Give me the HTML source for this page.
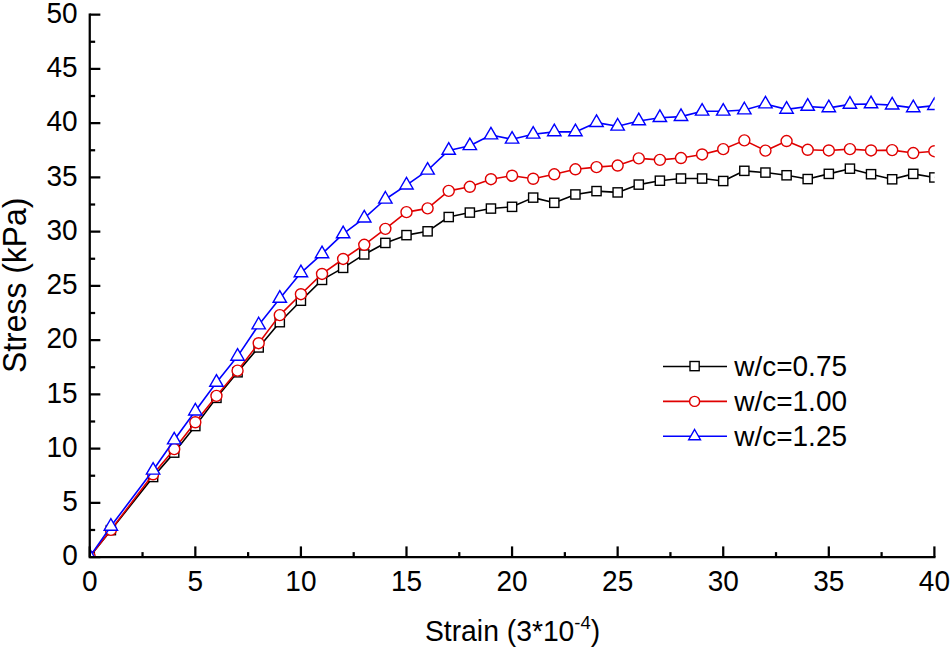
<!DOCTYPE html>
<html><head><meta charset="utf-8"><title>Stress-Strain</title>
<style>
html,body{margin:0;padding:0;background:#fff;width:952px;height:649px;overflow:hidden;}
svg{display:block;font-family:"Liberation Sans",sans-serif;}
</style></head><body>
<svg width="952" height="649" viewBox="0 0 952 649" font-family="Liberation Sans, sans-serif" fill="#000">
<defs><clipPath id="pc"><rect x="89.75" y="0" width="844.94" height="557.1"/></clipPath></defs>
<g clip-path="url(#pc)">
<polyline points="89.75,556.7 110.87,530.14 153.1,477.01 174.21,452.62 195.33,426.05 216.45,397.86 237.56,372.28 258.68,347.45 279.79,322.19 300.91,300.72 322.03,279.9 343.14,267.87 364.26,254.43 385.37,242.93 406.49,235.13 427.61,231.33 448.72,217.02 469.84,212.57 490.95,208.56 512.07,206.83 533.19,197.61 554.3,202.82 575.42,194.47 596.53,191.11 617.65,192.41 638.77,184.6 659.88,180.7 681,178.53 702.11,178.53 723.23,181.02 744.35,170.83 765.46,172.57 786.58,175.28 807.69,179.07 828.81,173.87 849.93,168.66 871.04,174.19 892.16,179.29 913.27,173.87 934.39,177.45" fill="none" stroke="#000000" stroke-width="1.6" stroke-linejoin="round"/>
<rect x="85.15" y="552.1" width="9.2" height="9.2" fill="#fff" stroke="#000000" stroke-width="1.4"/>
<rect x="106.27" y="525.54" width="9.2" height="9.2" fill="#fff" stroke="#000000" stroke-width="1.4"/>
<rect x="148.5" y="472.41" width="9.2" height="9.2" fill="#fff" stroke="#000000" stroke-width="1.4"/>
<rect x="169.61" y="448.02" width="9.2" height="9.2" fill="#fff" stroke="#000000" stroke-width="1.4"/>
<rect x="190.73" y="421.45" width="9.2" height="9.2" fill="#fff" stroke="#000000" stroke-width="1.4"/>
<rect x="211.85" y="393.26" width="9.2" height="9.2" fill="#fff" stroke="#000000" stroke-width="1.4"/>
<rect x="232.96" y="367.68" width="9.2" height="9.2" fill="#fff" stroke="#000000" stroke-width="1.4"/>
<rect x="254.08" y="342.85" width="9.2" height="9.2" fill="#fff" stroke="#000000" stroke-width="1.4"/>
<rect x="275.19" y="317.59" width="9.2" height="9.2" fill="#fff" stroke="#000000" stroke-width="1.4"/>
<rect x="296.31" y="296.12" width="9.2" height="9.2" fill="#fff" stroke="#000000" stroke-width="1.4"/>
<rect x="317.43" y="275.3" width="9.2" height="9.2" fill="#fff" stroke="#000000" stroke-width="1.4"/>
<rect x="338.54" y="263.27" width="9.2" height="9.2" fill="#fff" stroke="#000000" stroke-width="1.4"/>
<rect x="359.66" y="249.83" width="9.2" height="9.2" fill="#fff" stroke="#000000" stroke-width="1.4"/>
<rect x="380.77" y="238.33" width="9.2" height="9.2" fill="#fff" stroke="#000000" stroke-width="1.4"/>
<rect x="401.89" y="230.53" width="9.2" height="9.2" fill="#fff" stroke="#000000" stroke-width="1.4"/>
<rect x="423.01" y="226.73" width="9.2" height="9.2" fill="#fff" stroke="#000000" stroke-width="1.4"/>
<rect x="444.12" y="212.42" width="9.2" height="9.2" fill="#fff" stroke="#000000" stroke-width="1.4"/>
<rect x="465.24" y="207.97" width="9.2" height="9.2" fill="#fff" stroke="#000000" stroke-width="1.4"/>
<rect x="486.35" y="203.96" width="9.2" height="9.2" fill="#fff" stroke="#000000" stroke-width="1.4"/>
<rect x="507.47" y="202.23" width="9.2" height="9.2" fill="#fff" stroke="#000000" stroke-width="1.4"/>
<rect x="528.59" y="193.01" width="9.2" height="9.2" fill="#fff" stroke="#000000" stroke-width="1.4"/>
<rect x="549.7" y="198.22" width="9.2" height="9.2" fill="#fff" stroke="#000000" stroke-width="1.4"/>
<rect x="570.82" y="189.87" width="9.2" height="9.2" fill="#fff" stroke="#000000" stroke-width="1.4"/>
<rect x="591.93" y="186.51" width="9.2" height="9.2" fill="#fff" stroke="#000000" stroke-width="1.4"/>
<rect x="613.05" y="187.81" width="9.2" height="9.2" fill="#fff" stroke="#000000" stroke-width="1.4"/>
<rect x="634.17" y="180" width="9.2" height="9.2" fill="#fff" stroke="#000000" stroke-width="1.4"/>
<rect x="655.28" y="176.1" width="9.2" height="9.2" fill="#fff" stroke="#000000" stroke-width="1.4"/>
<rect x="676.4" y="173.93" width="9.2" height="9.2" fill="#fff" stroke="#000000" stroke-width="1.4"/>
<rect x="697.51" y="173.93" width="9.2" height="9.2" fill="#fff" stroke="#000000" stroke-width="1.4"/>
<rect x="718.63" y="176.42" width="9.2" height="9.2" fill="#fff" stroke="#000000" stroke-width="1.4"/>
<rect x="739.75" y="166.23" width="9.2" height="9.2" fill="#fff" stroke="#000000" stroke-width="1.4"/>
<rect x="760.86" y="167.97" width="9.2" height="9.2" fill="#fff" stroke="#000000" stroke-width="1.4"/>
<rect x="781.98" y="170.68" width="9.2" height="9.2" fill="#fff" stroke="#000000" stroke-width="1.4"/>
<rect x="803.09" y="174.47" width="9.2" height="9.2" fill="#fff" stroke="#000000" stroke-width="1.4"/>
<rect x="824.21" y="169.27" width="9.2" height="9.2" fill="#fff" stroke="#000000" stroke-width="1.4"/>
<rect x="845.33" y="164.06" width="9.2" height="9.2" fill="#fff" stroke="#000000" stroke-width="1.4"/>
<rect x="866.44" y="169.59" width="9.2" height="9.2" fill="#fff" stroke="#000000" stroke-width="1.4"/>
<rect x="887.56" y="174.69" width="9.2" height="9.2" fill="#fff" stroke="#000000" stroke-width="1.4"/>
<rect x="908.67" y="169.27" width="9.2" height="9.2" fill="#fff" stroke="#000000" stroke-width="1.4"/>
<rect x="929.79" y="172.85" width="9.2" height="9.2" fill="#fff" stroke="#000000" stroke-width="1.4"/>
<polyline points="89.75,556.7 110.87,529.92 153.1,474.3 174.21,449.15 195.33,422.26 216.45,395.91 237.56,370.65 258.68,343.22 279.79,315.14 300.91,294.22 322.03,273.94 343.14,258.98 364.26,244.78 385.37,228.84 406.49,212.14 427.61,208.35 448.72,190.89 469.84,186.77 490.95,179.18 512.07,175.71 533.19,178.75 554.3,174.3 575.42,169.32 596.53,167.15 617.65,165.52 638.77,158.36 659.88,159.88 681,158.04 702.11,154.46 723.23,149.15 744.35,140.37 765.46,150.67 786.58,141.02 807.69,149.8 828.81,150.45 849.93,149.15 871.04,150.45 892.16,150.12 913.27,153.05 934.39,151.21" fill="none" stroke="#e00000" stroke-width="1.6" stroke-linejoin="round"/>
<circle cx="89.75" cy="556.7" r="5.5" fill="#fff" stroke="#e00000" stroke-width="1.4"/>
<circle cx="110.87" cy="529.92" r="5.5" fill="#fff" stroke="#e00000" stroke-width="1.4"/>
<circle cx="153.1" cy="474.3" r="5.5" fill="#fff" stroke="#e00000" stroke-width="1.4"/>
<circle cx="174.21" cy="449.15" r="5.5" fill="#fff" stroke="#e00000" stroke-width="1.4"/>
<circle cx="195.33" cy="422.26" r="5.5" fill="#fff" stroke="#e00000" stroke-width="1.4"/>
<circle cx="216.45" cy="395.91" r="5.5" fill="#fff" stroke="#e00000" stroke-width="1.4"/>
<circle cx="237.56" cy="370.65" r="5.5" fill="#fff" stroke="#e00000" stroke-width="1.4"/>
<circle cx="258.68" cy="343.22" r="5.5" fill="#fff" stroke="#e00000" stroke-width="1.4"/>
<circle cx="279.79" cy="315.14" r="5.5" fill="#fff" stroke="#e00000" stroke-width="1.4"/>
<circle cx="300.91" cy="294.22" r="5.5" fill="#fff" stroke="#e00000" stroke-width="1.4"/>
<circle cx="322.03" cy="273.94" r="5.5" fill="#fff" stroke="#e00000" stroke-width="1.4"/>
<circle cx="343.14" cy="258.98" r="5.5" fill="#fff" stroke="#e00000" stroke-width="1.4"/>
<circle cx="364.26" cy="244.78" r="5.5" fill="#fff" stroke="#e00000" stroke-width="1.4"/>
<circle cx="385.37" cy="228.84" r="5.5" fill="#fff" stroke="#e00000" stroke-width="1.4"/>
<circle cx="406.49" cy="212.14" r="5.5" fill="#fff" stroke="#e00000" stroke-width="1.4"/>
<circle cx="427.61" cy="208.35" r="5.5" fill="#fff" stroke="#e00000" stroke-width="1.4"/>
<circle cx="448.72" cy="190.89" r="5.5" fill="#fff" stroke="#e00000" stroke-width="1.4"/>
<circle cx="469.84" cy="186.77" r="5.5" fill="#fff" stroke="#e00000" stroke-width="1.4"/>
<circle cx="490.95" cy="179.18" r="5.5" fill="#fff" stroke="#e00000" stroke-width="1.4"/>
<circle cx="512.07" cy="175.71" r="5.5" fill="#fff" stroke="#e00000" stroke-width="1.4"/>
<circle cx="533.19" cy="178.75" r="5.5" fill="#fff" stroke="#e00000" stroke-width="1.4"/>
<circle cx="554.3" cy="174.3" r="5.5" fill="#fff" stroke="#e00000" stroke-width="1.4"/>
<circle cx="575.42" cy="169.32" r="5.5" fill="#fff" stroke="#e00000" stroke-width="1.4"/>
<circle cx="596.53" cy="167.15" r="5.5" fill="#fff" stroke="#e00000" stroke-width="1.4"/>
<circle cx="617.65" cy="165.52" r="5.5" fill="#fff" stroke="#e00000" stroke-width="1.4"/>
<circle cx="638.77" cy="158.36" r="5.5" fill="#fff" stroke="#e00000" stroke-width="1.4"/>
<circle cx="659.88" cy="159.88" r="5.5" fill="#fff" stroke="#e00000" stroke-width="1.4"/>
<circle cx="681" cy="158.04" r="5.5" fill="#fff" stroke="#e00000" stroke-width="1.4"/>
<circle cx="702.11" cy="154.46" r="5.5" fill="#fff" stroke="#e00000" stroke-width="1.4"/>
<circle cx="723.23" cy="149.15" r="5.5" fill="#fff" stroke="#e00000" stroke-width="1.4"/>
<circle cx="744.35" cy="140.37" r="5.5" fill="#fff" stroke="#e00000" stroke-width="1.4"/>
<circle cx="765.46" cy="150.67" r="5.5" fill="#fff" stroke="#e00000" stroke-width="1.4"/>
<circle cx="786.58" cy="141.02" r="5.5" fill="#fff" stroke="#e00000" stroke-width="1.4"/>
<circle cx="807.69" cy="149.8" r="5.5" fill="#fff" stroke="#e00000" stroke-width="1.4"/>
<circle cx="828.81" cy="150.45" r="5.5" fill="#fff" stroke="#e00000" stroke-width="1.4"/>
<circle cx="849.93" cy="149.15" r="5.5" fill="#fff" stroke="#e00000" stroke-width="1.4"/>
<circle cx="871.04" cy="150.45" r="5.5" fill="#fff" stroke="#e00000" stroke-width="1.4"/>
<circle cx="892.16" cy="150.12" r="5.5" fill="#fff" stroke="#e00000" stroke-width="1.4"/>
<circle cx="913.27" cy="153.05" r="5.5" fill="#fff" stroke="#e00000" stroke-width="1.4"/>
<circle cx="934.39" cy="151.21" r="5.5" fill="#fff" stroke="#e00000" stroke-width="1.4"/>
<polyline points="89.75,556.7 110.87,526.34 153.1,470.29 174.21,440.04 195.33,411.09 216.45,382.47 237.56,356.34 258.68,325.01 279.79,298.44 300.91,272.86 322.03,253.88 343.14,233.93 364.26,218.1 385.37,199.24 406.49,185.14 427.61,170.29 448.72,150.45 469.84,145.79 490.95,135.05 512.07,139.28 533.19,134.3 554.3,131.91 575.42,131.91 596.53,122.59 617.65,126.27 638.77,120.96 659.88,117.71 681,116.62 702.11,111.31 723.23,111.31 744.35,110.01 765.46,104.05 786.58,109.36 807.69,106.43 828.81,107.84 849.93,104.37 871.04,103.94 892.16,105.13 913.27,107.84 934.39,105.67" fill="none" stroke="#0000ff" stroke-width="1.6" stroke-linejoin="round"/>
<polygon points="89.75,548.95 96.45,560.55 83.05,560.55" fill="#fff" stroke="#0000ff" stroke-width="1.4" stroke-linejoin="miter"/>
<polygon points="110.87,518.59 117.57,530.19 104.17,530.19" fill="#fff" stroke="#0000ff" stroke-width="1.4" stroke-linejoin="miter"/>
<polygon points="153.1,462.54 159.8,474.14 146.4,474.14" fill="#fff" stroke="#0000ff" stroke-width="1.4" stroke-linejoin="miter"/>
<polygon points="174.21,432.29 180.91,443.89 167.51,443.89" fill="#fff" stroke="#0000ff" stroke-width="1.4" stroke-linejoin="miter"/>
<polygon points="195.33,403.34 202.03,414.94 188.63,414.94" fill="#fff" stroke="#0000ff" stroke-width="1.4" stroke-linejoin="miter"/>
<polygon points="216.45,374.72 223.15,386.32 209.75,386.32" fill="#fff" stroke="#0000ff" stroke-width="1.4" stroke-linejoin="miter"/>
<polygon points="237.56,348.59 244.26,360.19 230.86,360.19" fill="#fff" stroke="#0000ff" stroke-width="1.4" stroke-linejoin="miter"/>
<polygon points="258.68,317.26 265.38,328.86 251.98,328.86" fill="#fff" stroke="#0000ff" stroke-width="1.4" stroke-linejoin="miter"/>
<polygon points="279.79,290.69 286.49,302.29 273.09,302.29" fill="#fff" stroke="#0000ff" stroke-width="1.4" stroke-linejoin="miter"/>
<polygon points="300.91,265.11 307.61,276.71 294.21,276.71" fill="#fff" stroke="#0000ff" stroke-width="1.4" stroke-linejoin="miter"/>
<polygon points="322.03,246.13 328.73,257.73 315.33,257.73" fill="#fff" stroke="#0000ff" stroke-width="1.4" stroke-linejoin="miter"/>
<polygon points="343.14,226.18 349.84,237.78 336.44,237.78" fill="#fff" stroke="#0000ff" stroke-width="1.4" stroke-linejoin="miter"/>
<polygon points="364.26,210.35 370.96,221.95 357.56,221.95" fill="#fff" stroke="#0000ff" stroke-width="1.4" stroke-linejoin="miter"/>
<polygon points="385.37,191.49 392.07,203.09 378.67,203.09" fill="#fff" stroke="#0000ff" stroke-width="1.4" stroke-linejoin="miter"/>
<polygon points="406.49,177.39 413.19,188.99 399.79,188.99" fill="#fff" stroke="#0000ff" stroke-width="1.4" stroke-linejoin="miter"/>
<polygon points="427.61,162.54 434.31,174.14 420.91,174.14" fill="#fff" stroke="#0000ff" stroke-width="1.4" stroke-linejoin="miter"/>
<polygon points="448.72,142.7 455.42,154.3 442.02,154.3" fill="#fff" stroke="#0000ff" stroke-width="1.4" stroke-linejoin="miter"/>
<polygon points="469.84,138.04 476.54,149.64 463.14,149.64" fill="#fff" stroke="#0000ff" stroke-width="1.4" stroke-linejoin="miter"/>
<polygon points="490.95,127.3 497.65,138.9 484.25,138.9" fill="#fff" stroke="#0000ff" stroke-width="1.4" stroke-linejoin="miter"/>
<polygon points="512.07,131.53 518.77,143.13 505.37,143.13" fill="#fff" stroke="#0000ff" stroke-width="1.4" stroke-linejoin="miter"/>
<polygon points="533.19,126.55 539.89,138.15 526.49,138.15" fill="#fff" stroke="#0000ff" stroke-width="1.4" stroke-linejoin="miter"/>
<polygon points="554.3,124.16 561,135.76 547.6,135.76" fill="#fff" stroke="#0000ff" stroke-width="1.4" stroke-linejoin="miter"/>
<polygon points="575.42,124.16 582.12,135.76 568.72,135.76" fill="#fff" stroke="#0000ff" stroke-width="1.4" stroke-linejoin="miter"/>
<polygon points="596.53,114.84 603.23,126.44 589.83,126.44" fill="#fff" stroke="#0000ff" stroke-width="1.4" stroke-linejoin="miter"/>
<polygon points="617.65,118.52 624.35,130.12 610.95,130.12" fill="#fff" stroke="#0000ff" stroke-width="1.4" stroke-linejoin="miter"/>
<polygon points="638.77,113.21 645.47,124.81 632.07,124.81" fill="#fff" stroke="#0000ff" stroke-width="1.4" stroke-linejoin="miter"/>
<polygon points="659.88,109.96 666.58,121.56 653.18,121.56" fill="#fff" stroke="#0000ff" stroke-width="1.4" stroke-linejoin="miter"/>
<polygon points="681,108.87 687.7,120.47 674.3,120.47" fill="#fff" stroke="#0000ff" stroke-width="1.4" stroke-linejoin="miter"/>
<polygon points="702.11,103.56 708.81,115.16 695.41,115.16" fill="#fff" stroke="#0000ff" stroke-width="1.4" stroke-linejoin="miter"/>
<polygon points="723.23,103.56 729.93,115.16 716.53,115.16" fill="#fff" stroke="#0000ff" stroke-width="1.4" stroke-linejoin="miter"/>
<polygon points="744.35,102.26 751.05,113.86 737.65,113.86" fill="#fff" stroke="#0000ff" stroke-width="1.4" stroke-linejoin="miter"/>
<polygon points="765.46,96.3 772.16,107.9 758.76,107.9" fill="#fff" stroke="#0000ff" stroke-width="1.4" stroke-linejoin="miter"/>
<polygon points="786.58,101.61 793.28,113.21 779.88,113.21" fill="#fff" stroke="#0000ff" stroke-width="1.4" stroke-linejoin="miter"/>
<polygon points="807.69,98.68 814.39,110.28 800.99,110.28" fill="#fff" stroke="#0000ff" stroke-width="1.4" stroke-linejoin="miter"/>
<polygon points="828.81,100.09 835.51,111.69 822.11,111.69" fill="#fff" stroke="#0000ff" stroke-width="1.4" stroke-linejoin="miter"/>
<polygon points="849.93,96.62 856.63,108.22 843.23,108.22" fill="#fff" stroke="#0000ff" stroke-width="1.4" stroke-linejoin="miter"/>
<polygon points="871.04,96.19 877.74,107.79 864.34,107.79" fill="#fff" stroke="#0000ff" stroke-width="1.4" stroke-linejoin="miter"/>
<polygon points="892.16,97.38 898.86,108.98 885.46,108.98" fill="#fff" stroke="#0000ff" stroke-width="1.4" stroke-linejoin="miter"/>
<polygon points="913.27,100.09 919.97,111.69 906.57,111.69" fill="#fff" stroke="#0000ff" stroke-width="1.4" stroke-linejoin="miter"/>
<polygon points="934.39,97.92 941.09,109.52 927.69,109.52" fill="#fff" stroke="#0000ff" stroke-width="1.4" stroke-linejoin="miter"/>
</g>
<path d="M89.75,14.6 V557.1 H934.39" fill="none" stroke="#000" stroke-width="2.25" stroke-linecap="square"/>
<line x1="89.75" y1="557.1" x2="100.35" y2="557.1" stroke="#000" stroke-width="2.25"/>
<line x1="89.75" y1="529.98" x2="95.15" y2="529.98" stroke="#000" stroke-width="2.25"/>
<line x1="89.75" y1="502.86" x2="100.35" y2="502.86" stroke="#000" stroke-width="2.25"/>
<line x1="89.75" y1="475.73" x2="95.15" y2="475.73" stroke="#000" stroke-width="2.25"/>
<line x1="89.75" y1="448.61" x2="100.35" y2="448.61" stroke="#000" stroke-width="2.25"/>
<line x1="89.75" y1="421.49" x2="95.15" y2="421.49" stroke="#000" stroke-width="2.25"/>
<line x1="89.75" y1="394.37" x2="100.35" y2="394.37" stroke="#000" stroke-width="2.25"/>
<line x1="89.75" y1="367.24" x2="95.15" y2="367.24" stroke="#000" stroke-width="2.25"/>
<line x1="89.75" y1="340.12" x2="100.35" y2="340.12" stroke="#000" stroke-width="2.25"/>
<line x1="89.75" y1="313" x2="95.15" y2="313" stroke="#000" stroke-width="2.25"/>
<line x1="89.75" y1="285.88" x2="100.35" y2="285.88" stroke="#000" stroke-width="2.25"/>
<line x1="89.75" y1="258.75" x2="95.15" y2="258.75" stroke="#000" stroke-width="2.25"/>
<line x1="89.75" y1="231.63" x2="100.35" y2="231.63" stroke="#000" stroke-width="2.25"/>
<line x1="89.75" y1="204.51" x2="95.15" y2="204.51" stroke="#000" stroke-width="2.25"/>
<line x1="89.75" y1="177.39" x2="100.35" y2="177.39" stroke="#000" stroke-width="2.25"/>
<line x1="89.75" y1="150.26" x2="95.15" y2="150.26" stroke="#000" stroke-width="2.25"/>
<line x1="89.75" y1="123.14" x2="100.35" y2="123.14" stroke="#000" stroke-width="2.25"/>
<line x1="89.75" y1="96.02" x2="95.15" y2="96.02" stroke="#000" stroke-width="2.25"/>
<line x1="89.75" y1="68.89" x2="100.35" y2="68.89" stroke="#000" stroke-width="2.25"/>
<line x1="89.75" y1="41.77" x2="95.15" y2="41.77" stroke="#000" stroke-width="2.25"/>
<line x1="89.75" y1="14.65" x2="100.35" y2="14.65" stroke="#000" stroke-width="2.25"/>
<line x1="89.75" y1="557.1" x2="89.75" y2="546.4" stroke="#000" stroke-width="2.25"/>
<line x1="142.54" y1="557.1" x2="142.54" y2="552.1" stroke="#000" stroke-width="2.25"/>
<line x1="195.33" y1="557.1" x2="195.33" y2="546.4" stroke="#000" stroke-width="2.25"/>
<line x1="248.12" y1="557.1" x2="248.12" y2="552.1" stroke="#000" stroke-width="2.25"/>
<line x1="300.91" y1="557.1" x2="300.91" y2="546.4" stroke="#000" stroke-width="2.25"/>
<line x1="353.7" y1="557.1" x2="353.7" y2="552.1" stroke="#000" stroke-width="2.25"/>
<line x1="406.49" y1="557.1" x2="406.49" y2="546.4" stroke="#000" stroke-width="2.25"/>
<line x1="459.28" y1="557.1" x2="459.28" y2="552.1" stroke="#000" stroke-width="2.25"/>
<line x1="512.07" y1="557.1" x2="512.07" y2="546.4" stroke="#000" stroke-width="2.25"/>
<line x1="564.86" y1="557.1" x2="564.86" y2="552.1" stroke="#000" stroke-width="2.25"/>
<line x1="617.65" y1="557.1" x2="617.65" y2="546.4" stroke="#000" stroke-width="2.25"/>
<line x1="670.44" y1="557.1" x2="670.44" y2="552.1" stroke="#000" stroke-width="2.25"/>
<line x1="723.23" y1="557.1" x2="723.23" y2="546.4" stroke="#000" stroke-width="2.25"/>
<line x1="776.02" y1="557.1" x2="776.02" y2="552.1" stroke="#000" stroke-width="2.25"/>
<line x1="828.81" y1="557.1" x2="828.81" y2="546.4" stroke="#000" stroke-width="2.25"/>
<line x1="881.6" y1="557.1" x2="881.6" y2="552.1" stroke="#000" stroke-width="2.25"/>
<line x1="934.39" y1="557.1" x2="934.39" y2="546.4" stroke="#000" stroke-width="2.25"/>
<g font-size="28"><text transform="translate(77.7,565.3) scale(1,1.06)" text-anchor="end">0</text>
<text transform="translate(77.7,511.06) scale(1,1.06)" text-anchor="end">5</text>
<text transform="translate(77.7,456.81) scale(1,1.06)" text-anchor="end">10</text>
<text transform="translate(77.7,402.56) scale(1,1.06)" text-anchor="end">15</text>
<text transform="translate(77.7,348.32) scale(1,1.06)" text-anchor="end">20</text>
<text transform="translate(77.7,294.07) scale(1,1.06)" text-anchor="end">25</text>
<text transform="translate(77.7,239.83) scale(1,1.06)" text-anchor="end">30</text>
<text transform="translate(77.7,185.59) scale(1,1.06)" text-anchor="end">35</text>
<text transform="translate(77.7,131.34) scale(1,1.06)" text-anchor="end">40</text>
<text transform="translate(77.7,77.09) scale(1,1.06)" text-anchor="end">45</text>
<text transform="translate(77.7,22.85) scale(1,1.06)" text-anchor="end">50</text>
<text transform="translate(89.75,590.8) scale(1,1.06)" text-anchor="middle">0</text>
<text transform="translate(195.33,590.8) scale(1,1.06)" text-anchor="middle">5</text>
<text transform="translate(300.91,590.8) scale(1,1.06)" text-anchor="middle">10</text>
<text transform="translate(406.49,590.8) scale(1,1.06)" text-anchor="middle">15</text>
<text transform="translate(512.07,590.8) scale(1,1.06)" text-anchor="middle">20</text>
<text transform="translate(617.65,590.8) scale(1,1.06)" text-anchor="middle">25</text>
<text transform="translate(723.23,590.8) scale(1,1.06)" text-anchor="middle">30</text>
<text transform="translate(828.81,590.8) scale(1,1.06)" text-anchor="middle">35</text>
<text transform="translate(934.39,590.8) scale(1,1.06)" text-anchor="middle">40</text></g>
<text transform="translate(512.6,640.6) scale(1,1.03)" font-size="28.3" text-anchor="middle">Strain (3*10<tspan font-size="18.5" dy="-11">-4</tspan><tspan dy="11">)</tspan></text>
<text transform="translate(26.4,285.3) rotate(-90) scale(1,1.04)" font-size="31.9" text-anchor="middle">Stress (kPa)</text>
<line x1="663" y1="366.5" x2="727" y2="366.5" stroke="#000000" stroke-width="1.6"/>
<rect x="690" y="361.5" width="9.2" height="9.2" fill="#fff" stroke="#000000" stroke-width="1.4"/>
<text x="734.2" y="375.8" font-size="28">w/c=</text>
<text transform="translate(792.55,375.8) scale(1,1.07)" font-size="28">0.75</text>
<line x1="663" y1="401.4" x2="727" y2="401.4" stroke="#e00000" stroke-width="1.6"/>
<circle cx="694.6" cy="401.4" r="5.0" fill="#fff" stroke="#e00000" stroke-width="1.4"/>
<text x="734.2" y="410.7" font-size="28">w/c=</text>
<text transform="translate(792.55,410.7) scale(1,1.07)" font-size="28">1.00</text>
<line x1="663" y1="436.3" x2="727" y2="436.3" stroke="#0000ff" stroke-width="1.6"/>
<polygon points="694.6,429.48 700.5,439.69 688.7,439.69" fill="#fff" stroke="#0000ff" stroke-width="1.4"/>
<text x="734.2" y="445.6" font-size="28">w/c=</text>
<text transform="translate(792.55,445.6) scale(1,1.07)" font-size="28">1.25</text>
</svg>
</body></html>
